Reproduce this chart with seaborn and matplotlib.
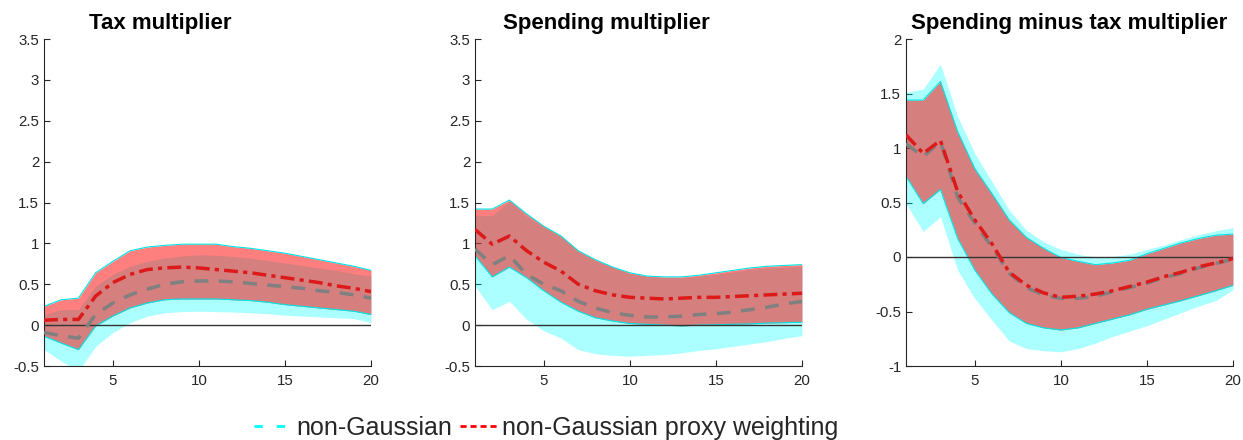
import numpy as np
import pandas as pd
import matplotlib
matplotlib.use("Agg")
import matplotlib.pyplot as plt
from matplotlib.lines import Line2D
import seaborn as sns

horizon = list(range(1, 21))

# ---- Tax multiplier ----
tax_ng_med = [-0.09, -0.13, -0.16, 0.13, 0.27, 0.37, 0.44, 0.50, 0.53, 0.54,
              0.54, 0.53, 0.51, 0.49, 0.47, 0.45, 0.42, 0.40, 0.37, 0.33]
tax_ng_lo = [-0.30, -0.44, -0.56, -0.26, -0.09, 0.03, 0.11, 0.15, 0.165, 0.17,
             0.165, 0.16, 0.15, 0.14, 0.12, 0.11, 0.10, 0.09, 0.08, 0.03]
tax_ng_hi = [0.13, 0.19, 0.19, 0.48, 0.62, 0.72, 0.78, 0.82, 0.845, 0.86,
             0.855, 0.84, 0.82, 0.79, 0.76, 0.73, 0.70, 0.67, 0.63, 0.60]
tax_pw_med = [0.06, 0.07, 0.07, 0.355, 0.52, 0.62, 0.68, 0.70, 0.71, 0.70,
              0.68, 0.66, 0.64, 0.61, 0.58, 0.55, 0.52, 0.48, 0.45, 0.41]
tax_pw_lo = [-0.135, -0.22, -0.30, -0.01, 0.11, 0.21, 0.27, 0.31, 0.32, 0.32,
             0.32, 0.31, 0.30, 0.28, 0.25, 0.23, 0.21, 0.19, 0.17, 0.13]
tax_pw_hi = [0.23, 0.31, 0.33, 0.64, 0.78, 0.91, 0.955, 0.975, 0.99, 0.99,
             0.99, 0.96, 0.94, 0.91, 0.88, 0.84, 0.80, 0.76, 0.72, 0.67]

# ---- Spending multiplier ----
spd_ng_med = [0.93, 0.74, 0.85, 0.62, 0.50, 0.42, 0.29, 0.21, 0.15, 0.12,
              0.10, 0.10, 0.11, 0.13, 0.14, 0.16, 0.19, 0.22, 0.26, 0.29]
spd_ng_lo = [0.48, 0.19, 0.29, 0.07, -0.07, -0.16, -0.30, -0.35, -0.37, -0.38,
             -0.37, -0.36, -0.34, -0.31, -0.29, -0.26, -0.23, -0.20, -0.16, -0.13]
spd_ng_hi = [1.34, 1.34, 1.52, 1.33, 1.20, 1.08, 0.90, 0.79, 0.71, 0.63,
             0.60, 0.58, 0.58, 0.60, 0.62, 0.65, 0.68, 0.70, 0.71, 0.72]
spd_pw_med = [1.17, 0.99, 1.09, 0.91, 0.77, 0.66, 0.50, 0.42, 0.37, 0.34,
              0.33, 0.32, 0.33, 0.34, 0.34, 0.35, 0.36, 0.37, 0.38, 0.39]
spd_pw_lo = [0.85, 0.59, 0.71, 0.58, 0.42, 0.28, 0.17, 0.09, 0.05, 0.02,
             0.01, 0.0, -0.01, 0.0, 0.005, 0.01, 0.015, 0.025, 0.03, 0.035]
spd_pw_hi = [1.42, 1.42, 1.53, 1.36, 1.21, 1.09, 0.91, 0.80, 0.71, 0.64,
             0.60, 0.59, 0.59, 0.61, 0.64, 0.67, 0.70, 0.72, 0.73, 0.74]

# ---- Spending minus tax multiplier ----
dif_ng_med = [1.04, 0.92, 1.06, 0.55, 0.31, 0.09, -0.15, -0.28, -0.35, -0.38,
              -0.38, -0.36, -0.32, -0.28, -0.24, -0.19, -0.15, -0.10, -0.06, -0.02]
dif_ng_lo = [0.49, 0.235, 0.37, -0.12, -0.38, -0.58, -0.77, -0.84, -0.86, -0.87,
             -0.84, -0.79, -0.73, -0.68, -0.63, -0.57, -0.51, -0.45, -0.40, -0.30]
dif_ng_hi = [1.51, 1.54, 1.77, 1.29, 0.95, 0.69, 0.43, 0.245, 0.14, 0.07,
             0.025, 0.0, 0.005, 0.025, 0.07, 0.11, 0.16, 0.205, 0.24, 0.27]
dif_pw_med = [1.12, 0.95, 1.07, 0.60, 0.34, 0.12, -0.14, -0.26, -0.33, -0.37,
              -0.36, -0.34, -0.31, -0.27, -0.23, -0.18, -0.14, -0.09, -0.055, -0.015]
dif_pw_lo = [0.74, 0.49, 0.62, 0.17, -0.12, -0.34, -0.51, -0.61, -0.65, -0.67,
             -0.65, -0.61, -0.57, -0.53, -0.48, -0.44, -0.40, -0.355, -0.31, -0.26]
dif_pw_hi = [1.44, 1.44, 1.61, 1.15, 0.81, 0.58, 0.34, 0.18, 0.08, -0.005,
             -0.04, -0.07, -0.055, -0.03, 0.03, 0.08, 0.13, 0.17, 0.20, 0.21]

titles = ["Tax multiplier", "Spending multiplier", "Spending minus tax multiplier"]
legend_labels = ["non-Gaussian", "non-Gaussian proxy weighting"]
ylims = [(-0.5, 3.5), (-0.5, 3.5), (-1, 2)]
yticks = [[-0.5, 0, 0.5, 1, 1.5, 2, 2.5, 3, 3.5],
          [-0.5, 0, 0.5, 1, 1.5, 2, 2.5, 3, 3.5],
          [-1, -0.5, 0, 0.5, 1, 1.5, 2]]
ytick_labels = [["-0.5", "0", "0.5", "1", "1.5", "2", "2.5", "3", "3.5"],
                ["-0.5", "0", "0.5", "1", "1.5", "2", "2.5", "3", "3.5"],
                ["-1", "-0.5", "0", "0.5", "1", "1.5", "2"]]
xticks = [5, 10, 15, 20]

panels = [
    (tax_ng_med, tax_ng_lo, tax_ng_hi, tax_pw_med, tax_pw_lo, tax_pw_hi),
    (spd_ng_med, spd_ng_lo, spd_ng_hi, spd_pw_med, spd_pw_lo, spd_pw_hi),
    (dif_ng_med, dif_ng_lo, dif_ng_hi, dif_pw_med, dif_pw_lo, dif_pw_hi),
]

sns.set_style("ticks")
plt.rcParams["font.family"] = ["Liberation Sans", "DejaVu Sans"]

W, H = 1243, 440
fig = plt.figure(figsize=(W / 100, H / 100), dpi=100)

lefts = [44, 475, 906]
ax_w = 327
ax_top, ax_bot = 39, 366
title_x = [0.357, 0.403, 0.499]
axis_col = "#262626"

for i, (ng_med, ng_lo, ng_hi, pw_med, pw_lo, pw_hi) in enumerate(panels):
    ax = fig.add_axes([lefts[i] / W, 1 - ax_bot / H, ax_w / W, (ax_bot - ax_top) / H])
    df = pd.DataFrame({"h": horizon, "ng": ng_med, "pw": pw_med})
    ax.fill_between(horizon, ng_lo, ng_hi, color=(0, 1, 1), alpha=0.33, lw=0, zorder=1)
    ax.fill_between(horizon, pw_lo, pw_hi, color=(1, 0, 0), alpha=0.5, lw=0, zorder=2)
    ax.plot(horizon, pw_lo, color="#00e5e5", lw=0.8, zorder=2.5)
    ax.plot(horizon, pw_hi, color="#00e5e5", lw=0.8, zorder=2.5)
    ax.axhline(0, color="#333333", lw=1.0, zorder=3)
    sns.lineplot(data=df, x="h", y="ng", ax=ax, color="#808080", lw=2.5,
                 linestyle=(0, (4, 3)), zorder=4)
    sns.lineplot(data=df, x="h", y="pw", ax=ax, color="#dd1a1a", lw=2.5,
                 linestyle=(0, (4, 1.5, 1.2, 1.5)), zorder=5)
    ax.set_xlim(1, 20)
    ax.set_ylim(*ylims[i])
    ax.set_xticks(xticks)
    ax.set_xticklabels([str(t) for t in xticks])
    ax.set_yticks(yticks[i])
    ax.set_yticklabels(ytick_labels[i])
    ax.set_xlabel("")
    ax.set_ylabel("")
    for s in ["top", "right"]:
        ax.spines[s].set_visible(False)
    for s in ["left", "bottom"]:
        ax.spines[s].set_color(axis_col)
        ax.spines[s].set_linewidth(0.8)
    ax.tick_params(axis="both", direction="in", length=4, width=0.8,
                   colors=axis_col, labelsize=10.8)
    ax.tick_params(axis="y", pad=3.5)
    ax.tick_params(axis="x", pad=6)
    ax.text(title_x[i], 1 + 10 / 327, titles[i], transform=ax.transAxes,
            ha="center", va="baseline", fontsize=16, fontweight="bold", color="black")

handles = [Line2D([], [], color=(0, 1, 1), lw=2, linestyle=(0, (3, 5))),
           Line2D([], [], color="#ff0000", lw=2, linestyle=(0, (2.2, 1.4)))]
fig.legend(handles, legend_labels, loc="center", bbox_to_anchor=(546 / W, 1 - 428 / H),
           ncol=2, frameon=False, fontsize=18, handlelength=1.6, handletextpad=0.1,
           columnspacing=0.3, borderaxespad=0)

fig.savefig("out.png", dpi=100)
